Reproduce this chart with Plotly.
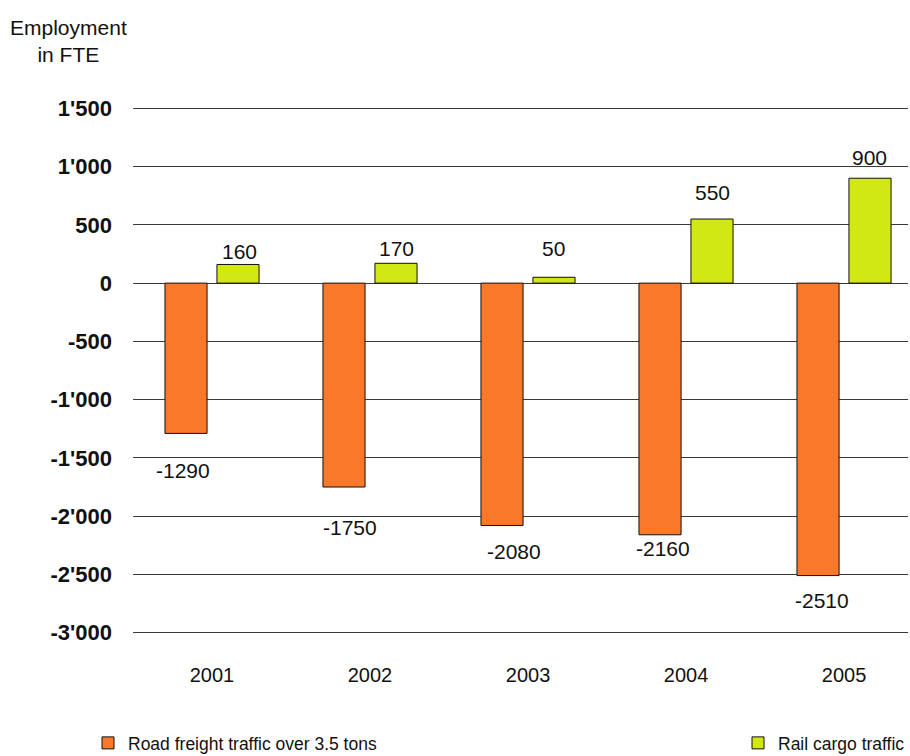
import plotly.graph_objects as go

years = ["2001", "2002", "2003", "2004", "2005"]
road_freight = [-1290, -1750, -2080, -2160, -2510]
rail_cargo = [160, 170, 50, 550, 900]

y_ticks = [1500, 1000, 500, 0, -500, -1000, -1500, -2000, -2500, -3000]
y_tick_text = ["1'500", "1'000", "500", "0", "-500", "-1'000", "-1'500", "-2'000", "-2'500", "-3'000"]

# label nudges (pixels) relative to the end of each bar
road_label_dx = [-3, 6, 12, 3, 4]
road_label_dy = [-37, -40, -26, -14, -25]
rail_label_dx = [1, 0, -1, 0, -1]
rail_label_dy = [13, 15, 29, 27, 21]

FONT = "Liberation Sans, Arial, sans-serif"
INK = "#111111"
BAR_SHIFT = 26  # half of one bar slot in the group, pixels

fig = go.Figure()
fig.add_trace(go.Bar(
    x=years, y=road_freight, name="Road freight traffic over 3.5 tons",
    marker=dict(color="#FA7829", line=dict(color=INK, width=1)),
    legend="legend",
))
fig.add_trace(go.Bar(
    x=years, y=rail_cargo, name="Rail cargo traffic",
    marker=dict(color="#D2E812", line=dict(color=INK, width=1)),
    legend="legend2",
))

annotations = []
for i in range(len(years)):
    # category axis: annotation x given as the category index
    annotations.append(dict(
        x=i, y=road_freight[i], xref="x", yref="y", text=str(road_freight[i]),
        showarrow=False, xanchor="center", yanchor="middle",
        xshift=-BAR_SHIFT + road_label_dx[i], yshift=road_label_dy[i],
        font=dict(size=21, family=FONT, color=INK),
    ))
    annotations.append(dict(
        x=i, y=rail_cargo[i], xref="x", yref="y", text=str(rail_cargo[i]),
        showarrow=False, xanchor="center", yanchor="middle",
        xshift=BAR_SHIFT + rail_label_dx[i], yshift=rail_label_dy[i],
        font=dict(size=21, family=FONT, color=INK),
    ))

m_left, m_right, m_top, m_bottom = 133, 2, 106, 121
plot_w = 910 - m_left - m_right
plot_h = 756 - m_top - m_bottom
plot_bottom_px = 756 - m_bottom

annotations.append(dict(
    text="Employment<br>in FTE",
    x=(68 - m_left) / plot_w, y=1 + (m_top - 41) / plot_h,
    xref="paper", yref="paper", xanchor="center", yanchor="middle",
    showarrow=False, font=dict(size=21, family=FONT, color=INK),
    align="center",
))

legend_style = dict(
    orientation="h", yanchor="middle",
    font=dict(size=17.5, family=FONT, color=INK),
    bgcolor="rgba(0,0,0,0)", itemwidth=30,
)
legend_y = -(743 - plot_bottom_px) / plot_h

fig.update_layout(
    width=910, height=756,
    margin=dict(l=m_left, r=m_right, t=m_top, b=m_bottom, autoexpand=False),
    paper_bgcolor="white", plot_bgcolor="white",
    barmode="group", bargap=0.342, bargroupgap=0.19,
    font=dict(family=FONT, color=INK),
    showlegend=True,
    legend=dict(legend_style, xanchor="left", x=(88 - m_left) / plot_w, y=legend_y),
    legend2=dict(legend_style, xanchor="right", x=(910 - m_left) / plot_w, y=legend_y),
    xaxis=dict(
        type="category", range=[-0.5, 4.405], showgrid=False, showline=False,
        ticks="", tickfont=dict(size=20, family=FONT), ticklabelstandoff=26,
    ),
    yaxis=dict(
        range=[-3020, 1520], tickvals=y_ticks, ticktext=y_tick_text,
        showgrid=True, gridcolor="#3a3a3a", gridwidth=1,
        zeroline=True, zerolinecolor="#3a3a3a", zerolinewidth=1,
        showline=False, ticks="",
        tickfont=dict(size=22, family=FONT, weight="bold"), ticklabelstandoff=20,
    ),
    annotations=annotations,
)

fig.write_html("out.html")
